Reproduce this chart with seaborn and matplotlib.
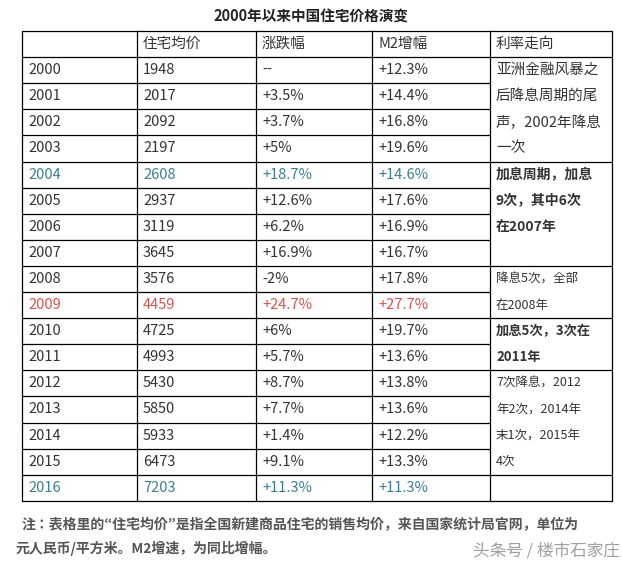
import matplotlib
matplotlib.use("Agg")
import matplotlib.pyplot as plt
import seaborn as sns

sns.set_theme(style="white")
plt.rcParams["font.family"] = ["Noto Sans CJK JP", "DejaVu Sans"]

years = [str(y) for y in range(2000, 2017)]
prices = [1948, 2017, 2092, 2197, 2608, 2937, 3119, 3645, 3576, 4459, 4725, 4993, 5430, 5850, 5933, 6473, 7203]
changes = ["--", "+3.5%", "+3.7%", "+5%", "+18.7%", "+12.6%", "+6.2%", "+16.9%", "-2%", "+24.7%",
           "+6%", "+5.7%", "+8.7%", "+7.7%", "+1.4%", "+9.1%", "+11.3%"]
m2 = ["+12.3%", "+14.4%", "+16.8%", "+19.6%", "+14.6%", "+17.6%", "+16.9%", "+16.7%", "+17.8%", "+27.7%",
      "+19.7%", "+13.6%", "+13.8%", "+13.6%", "+12.2%", "+13.3%", "+11.3%"]
headers = ["", "住宅均价", "涨跌幅", "M2增幅", "利率走向"]
rate_spans = [(0, 4), (4, 8), (8, 10), (10, 12), (12, 16), (16, 17)]
rate_texts = ["亚洲金融风暴之\n后降息周期的尾\n声，2002年降息\n一次",
              "加息周期，加息\n9次，其中6次\n在2007年",
              "降息5次，全部\n在2008年",
              "加息5次，3次在\n2011年",
              "7次降息，2012\n年2次，2014年\n末1次，2015年\n4次",
              ""]
rate_bold = [False, True, False, True, False, False]
rate_size = [10.5, 10, 9, 9.5, 9, 10]

fig = plt.figure(figsize=(6.22, 5.75), dpi=100)
ax = fig.add_axes([0, 0, 1, 1])
ax.set_xlim(0, 622); ax.set_ylim(575, 0); ax.axis("off")

cols = [22, 137, 256, 372, 490, 612]
top, rh = 31, 26.1
nrows = 18
bottom = top + rh * nrows
txt = "#333333"
teal, red = "#3a7f8f", "#d9534f"

ax.text(311, 17, "2000年以来中国住宅价格演变", ha="center", va="center", fontsize=10.5, fontweight="bold", color="#222")

lw = 0.9
for c in cols:
    ax.plot([c, c], [top, bottom], color="black", lw=lw)
for r in range(nrows + 1):
    y = top + r * rh
    ax.plot([cols[0], cols[4]], [y, y], color="black", lw=lw)
ax.plot([cols[4], cols[5]], [top, top], color="black", lw=lw)
ax.plot([cols[4], cols[5]], [top + rh, top + rh], color="black", lw=lw)
for s, e in rate_spans:
    y = top + (e + 1) * rh
    ax.plot([cols[4], cols[5]], [y, y], color="black", lw=lw)

for i, h in enumerate(headers):
    ax.text(cols[i] + 6, top + rh / 2, h, ha="left", va="center", fontsize=10.5, color=txt)

for r in range(17):
    y = top + (r + 1) * rh + rh / 2
    color = teal if years[r] in ("2004", "2016") else (red if years[r] == "2009" else txt)
    for i, v in enumerate([years[r], str(prices[r]), changes[r], m2[r]]):
        ax.text(cols[i] + 6, y, v, ha="left", va="center", fontsize=10.5, color=color)

for (s, e), t, b, fs in zip(rate_spans, rate_texts, rate_bold, rate_size):
    for j, line in enumerate(t.split("\n")):
        if not line:
            continue
        y = top + (s + 1 + j) * rh + rh / 2
        ax.text(cols[4] + 6, y, line, ha="left", va="center", fontsize=fs, color=txt,
                fontweight="bold" if b else "normal")

ax.text(22, 524, "注：表格里的“住宅均价”是指全国新建商品住宅的销售均价，来自国家统计局官网，单位为",
        ha="left", va="center", fontsize=10, fontweight="bold", color="#555")
ax.text(16, 549, "元人民币/平方米。M2增速，为同比增幅。", ha="left", va="center", fontsize=10,
        fontweight="bold", color="#555")
ax.text(620, 551, "头条号 / 楼市石家庄", ha="right", va="center", fontsize=12, color="#888", alpha=0.8)

fig.savefig("out.png", dpi=100, facecolor="white")
